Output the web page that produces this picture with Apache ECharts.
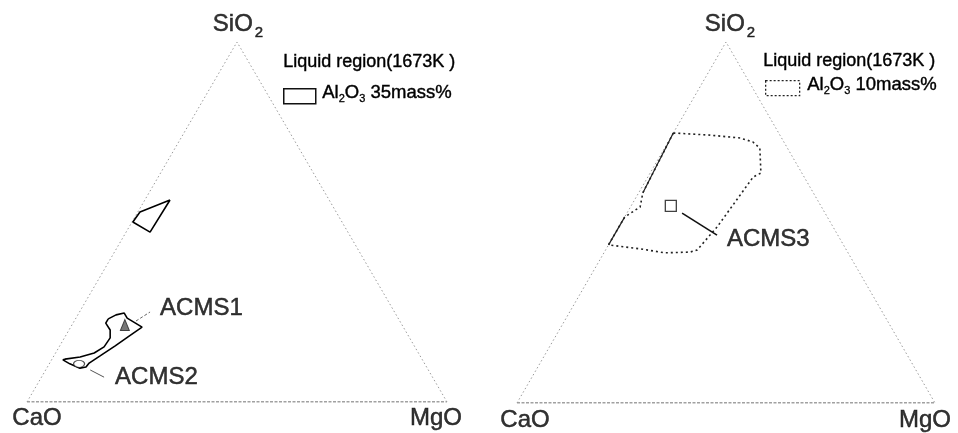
<!DOCTYPE html>
<html><head><meta charset="utf-8">
<script src="https://cdn.jsdelivr.net/npm/echarts@6/dist/echarts.min.js"></script>
<style>html,body{margin:0;padding:0;background:#fff}#c{width:958px;height:433px}</style>
</head><body><div id="c"></div>
<script>
// All compositions are [CaO, SiO2, MgO] in mass%
const vertexCaO = [100, 0, 0];
const vertexMgO = [0, 0, 100];
const vertexSiO2 = [0, 100, 0];

// Liquid region (1673K), Al2O3 35 mass% : two separate areas
const region35Upper = [[37.9,56.1,6.0],[46.7,52.8,0.5],[49.8,50.0,0.2],[47.1,47.2,5.7]];
const region35Lower = [
  [69.1,23.1,7.8],[70.3,21.9,7.8],[70.2,20.0,9.8],[71.3,17.8,10.9],[74.0,15.3,10.7],
  [77.2,13.6,9.2],[81.1,12.5,6.4],[85.0,11.9,3.1],[85.6,11.7,2.7],[84.5,10.6,4.9],
  [82.7,9.4,7.9],[81.1,9.7,9.2],[79.8,10.8,9.4],[76.2,12.8,11.0],[71.2,15.6,13.2],
  [66.9,18.1,15.0],[62.2,20.8,17.0],[64.5,23.3,12.2],[64.5,24.7,10.8],[66.7,24.2,9.1]
];
// Liquid region (1673K), Al2O3 10 mass%
const region10 = [
  [25.2,74.8,0],[16.7,74.2,9.1],[9.9,73.4,16.7],[7.4,72.3,20.3],[6.6,70.6,22.8],
  [9.8,63.7,26.5],[12.2,62.6,25.2],[27.7,48.8,23.5],[35.7,42.4,21.9],[37.7,41.8,20.5],
  [43.8,41.6,14.6],[49.2,42.7,8.1],[56.2,43.8,0],[48.5,51.5,0],[43.4,54.3,2.3],
  [40.8,58.2,1.0],[36.1,63.2,0.7]
];
const region10EdgeA = [[25.2,74.8,0],[36.1,63.2,0.7],[40.8,58.2,1.0]];
const region10EdgeB = [[48.5,51.5,0],[56.2,43.8,0]];

// Slag compositions
const sampleNames = ['ACMS1','ACMS2','ACMS3'];
const acms1 = [66.0,21.4,12.6];
const acms2 = [82.3,10.6,7.1];
const acms3 = [35.9,54.6,9.5];
const leader1 = [[62.8,22.5,14.7],[58.2,25.0,16.8]];
const leader2 = [[80.5,8.9,10.6],[78.2,6.9,14.9]];
const leader3 = [[34.2,52.6,13.2],[28.9,46.5,24.6]];

const legendTitle = 'Liquid region(1673K )';
const legendLeft = '{m|Al}{s|2}{m|O}{s|3}{m| 35mass%}';
const legendRight = '{m|Al}{s|2}{m|O}{s|3}{m| 10mass%}';

function tern(c){ const s=c[0]+c[1]+c[2]; const si=c[1]/s*100, mg=c[2]/s*100; return [mg+si/2, si]; }
function poly(arr, close){ const d = arr.map(tern); if (close) d.push(d[0]); return d; }

const FONT = '"Liberation Sans", Arial, sans-serif';
const INK = {color:'#000', textBorderColor:'#000', textBorderWidth:0.5};
const richVertex = {
  a:Object.assign({fontSize:24,fontFamily:FONT},INK),
  b:Object.assign({fontSize:15,fontFamily:FONT,padding:[17,0,0,2]},INK)
};
// zrender-level rich styles for graphic text
const richLegend = {
  m:{fontSize:18.5, fontFamily:FONT, fill:'#000', stroke:'#000', lineWidth:0.4},
  s:{fontSize:11, fontFamily:FONT, fill:'#000', stroke:'#000', lineWidth:0.3, padding:[12,0,0,0]}
};

function line(gi, data, style, extra){
  return Object.assign({type:'line', xAxisIndex:gi, yAxisIndex:gi, data, symbol:'none', silent:true,
    lineStyle:style, z:2}, extra||{});
}
function vlabel(gi, c, text, offset){
  return {type:'scatter', xAxisIndex:gi, yAxisIndex:gi, symbolSize:0, silent:true,
    data:[tern(c)], label:{show:true, position:'inside', offset, formatter:text, rich:richVertex}};
}
function slabel(gi, c, text, dist, offset){
  return {type:'scatter', xAxisIndex:gi, yAxisIndex:gi, symbolSize:0, silent:true,
    data:[tern(c)], label:Object.assign({show:true, position:'right', distance:dist, offset, formatter:text,
      fontSize:24, fontFamily:FONT}, INK)};
}

const series = [];
for (let gi=0; gi<2; gi++){
  series.push(line(gi, [tern(vertexCaO), tern(vertexMgO)], {color:'#444', width:1.2, type:[3,1.5]}));
  series.push(line(gi, [tern(vertexCaO), tern(vertexSiO2), tern(vertexMgO)], {color:'#9a9a9a', width:1, type:[1.5,2.5]}));
}
series.push(vlabel(0, vertexCaO, '{a|CaO}', [10,16]));
series.push(vlabel(0, vertexMgO, '{a|MgO}', [-11,16]));
series.push(vlabel(0, vertexSiO2, '{a|SiO}{b|2}', [1,-18]));
series.push(vlabel(1, vertexCaO, '{a|CaO}', [8,17]));
series.push(vlabel(1, vertexMgO, '{a|MgO}', [-10,17]));
series.push(vlabel(1, vertexSiO2, '{a|SiO}{b|2}', [4,-18]));

series.push(line(0, poly(region35Upper,true), {color:'#000', width:1.6}));
series.push(line(0, poly(region35Lower,true), {color:'#000', width:1.6}));
series.push(line(1, poly(region10,true), {color:'#222', width:1.6, type:[2,3]}));
series.push(line(1, poly(region10EdgeA,false), {color:'#222', width:1.2}));
series.push(line(1, poly(region10EdgeB,false), {color:'#222', width:1.2}));

series.push(line(0, poly(leader1,false), {color:'#666', width:1, type:[3,2]}));
series.push(line(0, poly(leader2,false), {color:'#555', width:1}));
series.push(line(1, poly(leader3,false), {color:'#111', width:1.6}));

series.push({type:'scatter', xAxisIndex:0, yAxisIndex:0, symbol:'triangle', symbolSize:[9,11], silent:true,
  data:[tern(acms1)], itemStyle:{color:'#555', borderColor:'#222', borderWidth:1}, z:5});
series.push({type:'scatter', xAxisIndex:0, yAxisIndex:0, symbol:'circle', symbolSize:[11,7], silent:true,
  data:[tern(acms2)], itemStyle:{color:'#fff', borderColor:'#222', borderWidth:1}, z:5});
series.push({type:'scatter', xAxisIndex:1, yAxisIndex:1, symbol:'rect', symbolSize:11, silent:true,
  data:[tern(acms3)], itemStyle:{color:'#fff', borderColor:'#111', borderWidth:1.3}, z:5});

series.push(slabel(0, leader1[1], sampleNames[0], 10, [0,-4]));
series.push(slabel(0, leader2[1], sampleNames[1], 11, [0,0]));
series.push(slabel(1, leader3[1], sampleNames[2], 10, [0,4]));

const ax = {type:'value', min:0, max:100, show:false};
const chart = echarts.init(document.getElementById('c'));
chart.setOption({
  animation:false,
  backgroundColor:'#fff',
  grid:[{left:27, top:42, width:420, height:360},{left:517, top:42, width:418, height:361}],
  xAxis:[Object.assign({gridIndex:0},ax),Object.assign({gridIndex:1},ax)],
  yAxis:[Object.assign({gridIndex:0},ax),Object.assign({gridIndex:1},ax)],
  series,
  graphic:[
    {type:'text', left:283, top:53, style:{text:legendTitle, font:'18px '+FONT, fill:'#000', stroke:'#000', lineWidth:0.4}},
    {type:'rect', left:283, top:88, shape:{width:32, height:15}, style:{fill:'#fff', stroke:'#111', lineWidth:1.5}},
    {type:'text', left:322, top:83, style:{text:legendLeft, rich:richLegend}},
    {type:'text', left:763, top:52, style:{text:legendTitle, font:'18px '+FONT, fill:'#000', stroke:'#000', lineWidth:0.4}},
    {type:'rect', left:765, top:80, shape:{width:34, height:15}, style:{fill:'#fff', stroke:'#222', lineWidth:1.3, lineDash:[2,2]}},
    {type:'text', left:807, top:75, style:{text:legendRight, rich:richLegend}}
  ]
});
</script></body></html>
